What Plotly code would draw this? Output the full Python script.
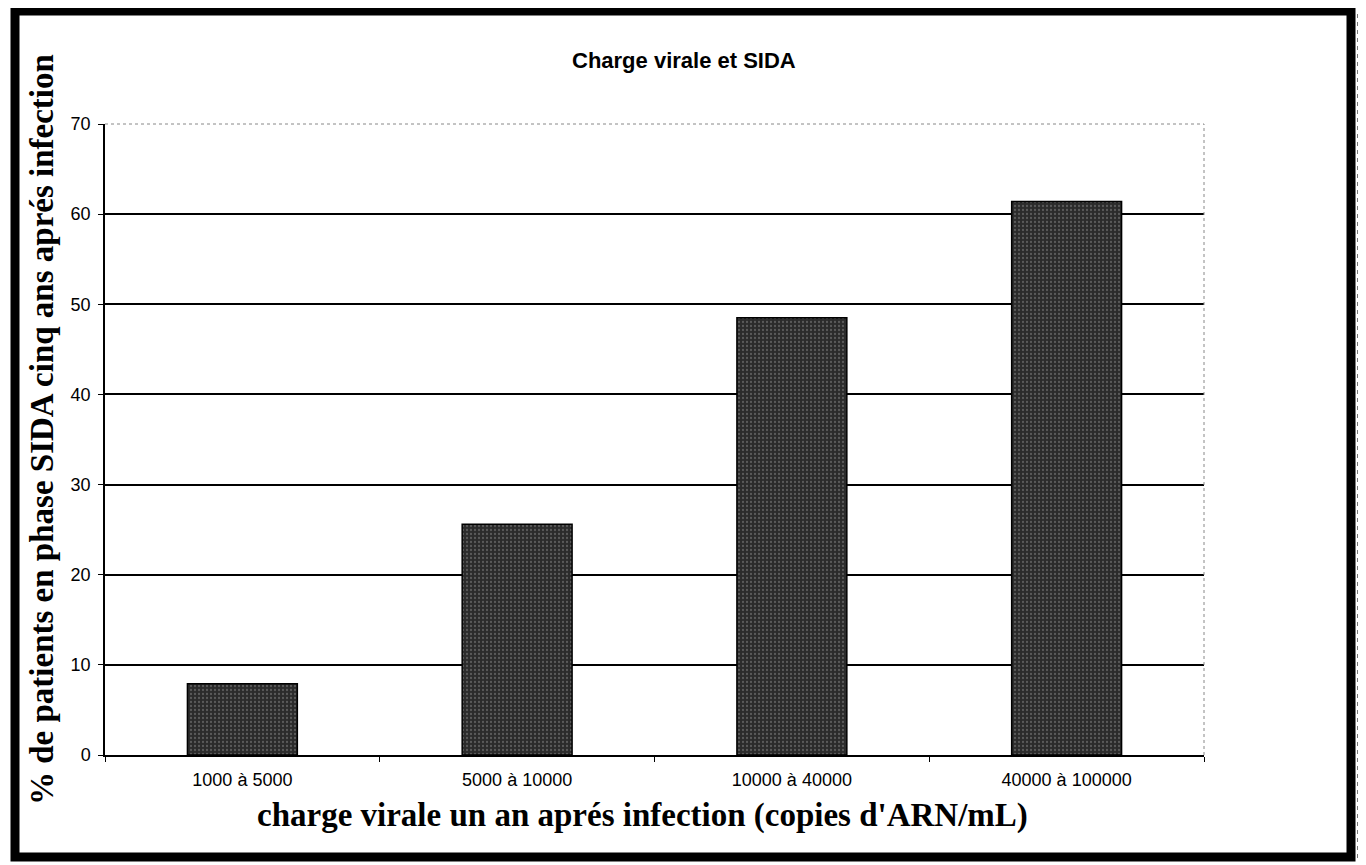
import plotly.graph_objects as go

categories = ["1000 à 5000", "5000 à 10000", "10000 à 40000", "40000 à 100000"]
values = [7.9, 25.6, 48.5, 61.4]
y_ticks = [0, 10, 20, 30, 40, 50, 60, 70]

W, H = 1366, 865
OFF = 8  # page body margin in the browser
L, R, T, B = 105, 1204, 124, 755  # plot area in pixels (page coordinates)


def px(x):
    return (x - L) / (R - L)


def py(y):
    return (B - y) / (B - T)


fig = go.Figure()
fig.add_trace(go.Bar(
    x=categories, y=values, width=0.4,
    marker=dict(
        color="#333333",
        line=dict(color="#000000", width=1.5),
        pattern=dict(shape=".", fgcolor="#8a8a8a", bgcolor="#2b2b2b", size=4, solidity=0.25),
    ),
    showlegend=False,
))

shapes = [
    # hide top gridline then draw dotted plot border (top & right)
    dict(type="line", xref="paper", yref="paper", x0=0, x1=1, y0=1, y1=1,
         line=dict(color="white", width=3), layer="above"),
    dict(type="line", xref="paper", yref="paper", x0=0, x1=1, y0=1, y1=1,
         line=dict(color="#888888", width=1, dash="dot"), layer="above"),
    dict(type="line", xref="paper", yref="paper", x0=1, x1=1, y0=0, y1=1,
         line=dict(color="#888888", width=1, dash="dot"), layer="above"),
    # outer black frame
    dict(type="rect", xref="paper", yref="paper",
         x0=px(15), x1=px(1351), y0=py(11), y1=py(857),
         line=dict(color="#000000", width=9), fillcolor="rgba(0,0,0,0)", layer="above"),
    dict(type="line", xref="paper", yref="paper",
         x0=px(1359), x1=px(1359), y0=py(14), y1=py(862),
         line=dict(color="#777777", width=4, dash="dot"), layer="above"),
]

annotations = [
    dict(text="Charge virale et SIDA", xref="paper", yref="paper",
         x=px(684), y=py(60), xanchor="center", yanchor="middle", showarrow=False,
         font=dict(family="Liberation Sans, Arial", size=22, color="#000000", weight="bold")),
    dict(text="charge virale un an aprés infection (copies d'ARN/mL)", xref="paper", yref="paper",
         x=px(642), y=py(815), xanchor="center", yanchor="middle", showarrow=False,
         font=dict(family="Liberation Serif, Times New Roman", size=33, color="#000000", weight="bold")),
    dict(text="% de patients en phase SIDA cinq ans aprés infection", xref="paper", yref="paper",
         x=px(42), y=py(430), xanchor="center", yanchor="middle", showarrow=False, textangle=-90,
         font=dict(family="Liberation Serif, Times New Roman", size=33, color="#000000", weight="bold")),
]

fig.update_layout(
    width=W - OFF, height=H - OFF,
    margin=dict(l=L - OFF, r=W - R, t=T - OFF, b=H - B),
    paper_bgcolor="white", plot_bgcolor="white",
    shapes=shapes, annotations=annotations,
    bargap=0.6,
)
fig.update_xaxes(
    type="category", showgrid=False, showline=True, linecolor="#000000", linewidth=1.5,
    ticks="outside", tickson="boundaries", ticklen=5, tickcolor="#000000",
    tickfont=dict(family="Liberation Sans, Arial", size=18, color="#000000"),
    ticklabelstandoff=8,
    range=[-0.5, 3.5],
)
fig.update_yaxes(
    range=[0, 70], tickvals=y_ticks, showgrid=True, gridcolor="#000000", gridwidth=1.5,
    zeroline=False, showline=True, linecolor="#000000", linewidth=1.5,
    ticks="outside", ticklen=5, tickcolor="#000000",
    tickfont=dict(family="Liberation Sans, Arial", size=18, color="#000000"),
    ticklabelstandoff=4,
)

fig.write_html("out.html")
